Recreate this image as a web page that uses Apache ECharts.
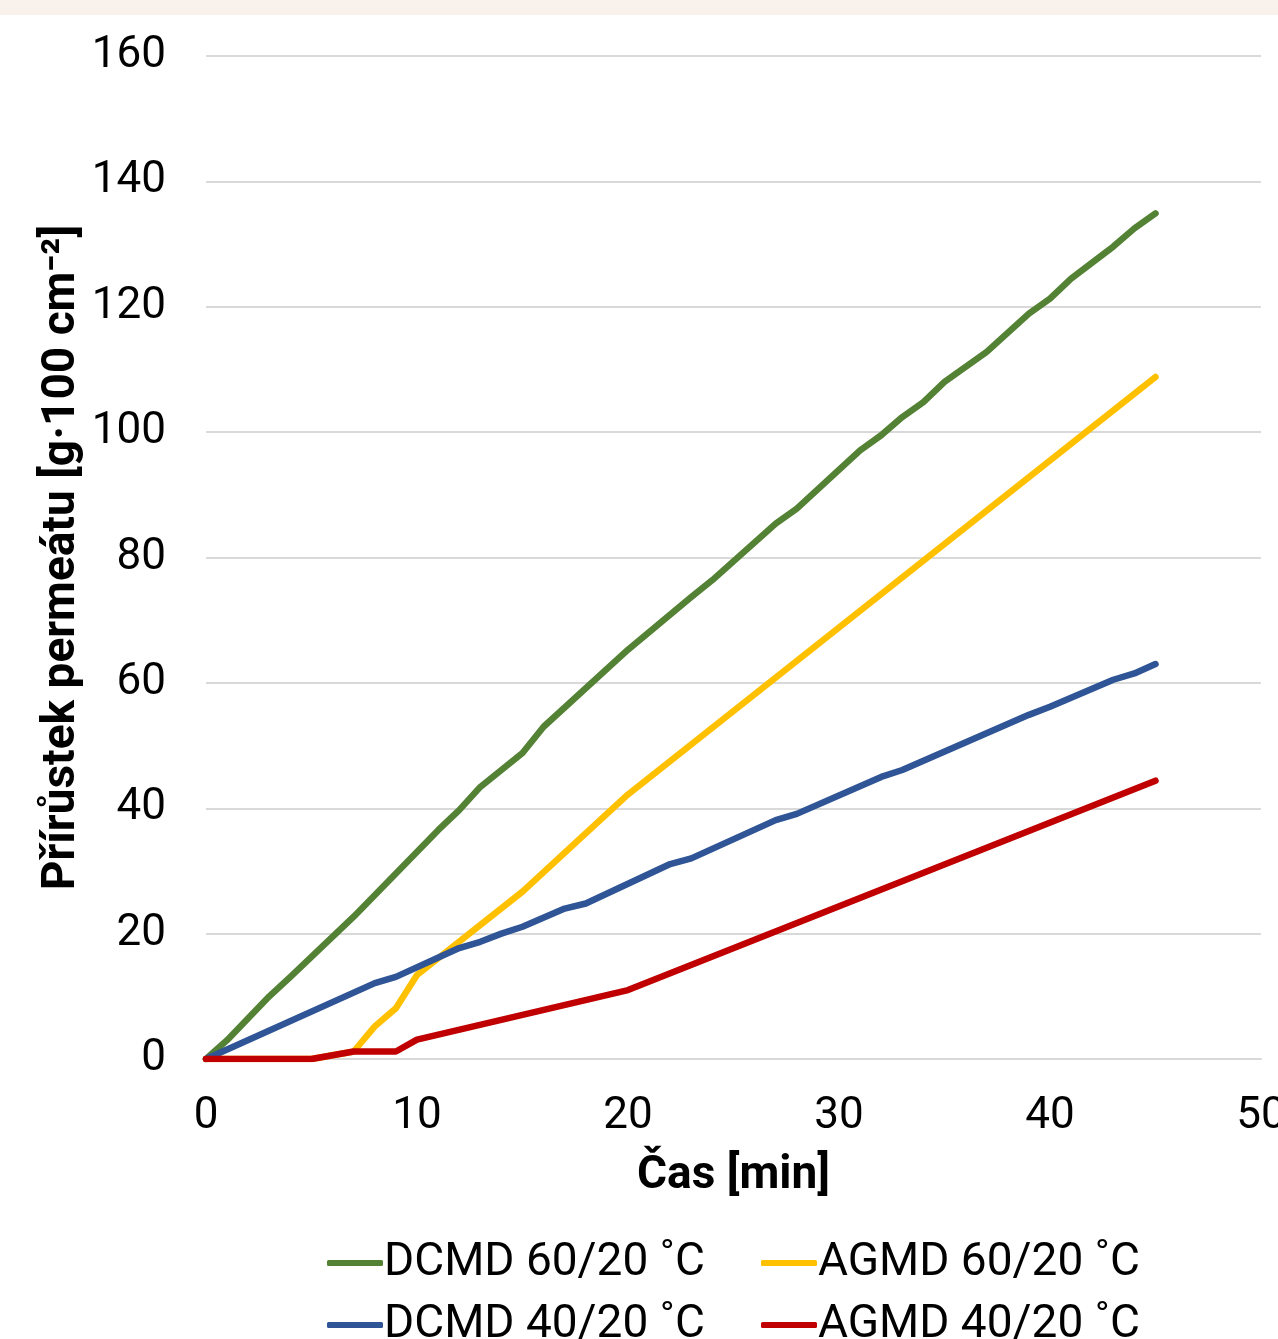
<!DOCTYPE html>
<html>
<head>
<meta charset="utf-8">
<script src="https://cdn.jsdelivr.net/npm/echarts@6/dist/echarts.min.js"></script>
<style>
html,body{margin:0;padding:0;background:#fff;}
#c{width:1278px;height:1339px;}
</style>
</head>
<body>
<div id="c"></div>
<script>
// Data
const seriesNames = ['DCMD 60/20 ˚C', 'AGMD 60/20 ˚C', 'DCMD 40/20 ˚C', 'AGMD 40/20 ˚C'];
const colors = ['#548235', '#FFC000', '#2F5597', '#C00000'];

const dcmd60Time  = [0, 1, 3, 4, 7, 11, 12, 13, 15, 16, 20, 23, 24, 27, 28, 31, 32, 33, 34, 35, 37, 39, 40, 41, 43, 44, 45];
const dcmd60Value = [0, 3, 10, 13.1, 22.7, 36.5, 39.7, 43.4, 48.8, 53, 65.3, 73.7, 76.4, 85.4, 87.8, 97.1, 99.5, 102.4, 104.8, 108, 112.8, 118.9, 121.3, 124.5, 129.6, 132.5, 134.9];

const agmd60Time  = [0, 5, 7, 8, 9, 10, 15, 20, 45];
const agmd60Value = [0, 0, 1.2, 5.2, 8.1, 13.4, 26.7, 42.2, 108.8];

const dcmd40Time  = [0, 8, 9, 12, 13, 14, 15, 17, 18, 22, 23, 27, 28, 32, 33, 39, 40, 43, 44, 45];
const dcmd40Value = [0, 12.1, 13.1, 17.7, 18.7, 20, 21.1, 24, 24.8, 31.1, 32, 38.1, 39.1, 45, 46.1, 54.9, 56.2, 60.5, 61.5, 63];

const agmd40Time  = [0, 5, 7, 9, 10, 20, 45];
const agmd40Value = [0, 0, 1.2, 1.2, 3.1, 11, 44.4];

const xTicks = {min: 0, max: 50, interval: 10};
const yTicks = {min: 0, max: 160, interval: 20};

const xTitle = 'Čas [min]';
const yTitle = 'Přírůstek permeátu [g·100 cm⁻²]';

function pairs(t, v){ return t.map((x, i) => [x, v[i]]); }
const allData = [
  pairs(dcmd60Time, dcmd60Value),
  pairs(agmd60Time, agmd60Value),
  pairs(dcmd40Time, dcmd40Value),
  pairs(agmd40Time, agmd40Value)
];

const FONT = 'Roboto';
const chart = echarts.init(document.getElementById('c'), null, {renderer: 'canvas'});

const legendPos = [
  {left: 327, top: 1240},
  {left: 761, top: 1240},
  {left: 327, top: 1302},
  {left: 761, top: 1302}
];

const option = {
  backgroundColor: '#ffffff',
  animation: false,
  graphic: [{
    type: 'rect', left: 0, top: 0, z: -1,
    shape: {width: 1278, height: 15},
    style: {fill: '#f9f2ec'}
  }],
  grid: {left: 206, right: 17, top: 56, bottom: 280, containLabel: false, outerBoundsMode: 'none'},
  legend: seriesNames.map((n, i) => ({
    data: [n],
    left: legendPos[i].left,
    top: legendPos[i].top,
    icon: 'roundRect',
    itemWidth: 56,
    itemHeight: 6,
    itemGap: 0,
    padding: 0,
    textStyle: {fontFamily: FONT, fontSize: 46, color: '#000', padding: [0, 0, 0, -4]}
  })),
  xAxis: {
    type: 'value',
    min: xTicks.min, max: xTicks.max, interval: xTicks.interval,
    name: xTitle,
    nameLocation: 'middle',
    nameGap: 94,
    nameMoveOverlap: false,
    nameTextStyle: {fontFamily: FONT, fontSize: 46, fontWeight: 'bold', color: '#000'},
    axisLine: {show: true, lineStyle: {color: '#d9d9d9', width: 2}},
    axisTick: {show: false},
    splitLine: {show: false},
    axisLabel: {fontFamily: FONT, fontSize: 44, color: '#000', margin: 36}
  },
  yAxis: {
    type: 'value',
    min: yTicks.min, max: yTicks.max, interval: yTicks.interval,
    name: yTitle,
    nameLocation: 'middle',
    nameGap: 121,
    nameMoveOverlap: false,
    nameRotate: 90,
    nameTextStyle: {fontFamily: FONT, fontSize: 46, fontWeight: 'bold', color: '#000'},
    axisLine: {show: false},
    axisTick: {show: false},
    splitLine: {show: true, lineStyle: {color: '#d9d9d9', width: 2}},
    axisLabel: {fontFamily: FONT, fontSize: 44, color: '#000', margin: 40}
  },
  series: seriesNames.map((n, i) => ({
    name: n,
    type: 'line',
    data: allData[i],
    showSymbol: false,
    symbol: 'none',
    color: colors[i],
    lineStyle: {color: colors[i], width: 6.5, cap: 'round', join: 'round'},
    itemStyle: {color: colors[i]},
    z: 2 + i
  }))
};
chart.setOption(option);
</script>
</body>
</html>
